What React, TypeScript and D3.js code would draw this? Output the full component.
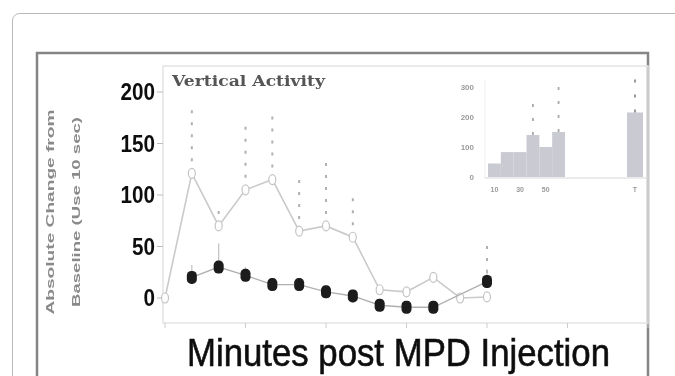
import { useMemo } from "react";
import * as d3 from "d3";

const WIDTH = 675;
const HEIGHT = 376;

// main time course (minutes after injection)
const minutes = [0, 10, 20, 30, 40, 50, 60, 70, 80, 90, 100, 110, 120];
const openValues = [0, 121, 70, 105, 115, 65, 70, 59, 8, 6, 20, 0, 1];
const openErrors = [0, 70, 15, 70, 63, 50, 67, 44, 10, 8, 10, 5, 52];
const filledValues = [null, 20, 30, 22, 13, 13, 6, 2, -7, -9, -9, null, 16];
const filledErrors = [null, 12, 23, 8, 6, 6, 6, 6, 5, 5, 5, null, 12];
const yTicks = [0, 50, 100, 150, 200];

// inset histogram
const insetBins = ["10", "20", "30", "40", "50", "60"];
const insetValues = [45, 83, 83, 140, 100, 150];
const insetErrors = [null, null, null, 110, null, 170];
const insetTotalValue = 215;
const insetTotalError = 135;
const insetTicks = [0, 100, 200, 300];
const insetTickLabels = ["0", "100", "200", "300"];
const insetXLabels = ["10", "30", "50"];
const insetTotalLabel = "T";

export default function App() {
  const x = d3.scaleLinear().domain([0, 180]).range([165, 648]);
  const y = d3.scaleLinear().domain([0, 200]).range([298, 92]);

  const openPts = useMemo(
    () => minutes.map((m, i) => ({ m, v: openValues[i], e: openErrors[i] })),
    []
  );
  const filledPts = useMemo(
    () =>
      minutes
        .map((m, i) => ({ m, v: filledValues[i], e: filledErrors[i] }))
        .filter((d) => d.v !== null),
    []
  );

  const line = d3
    .line<{ m: number; v: number }>()
    .x((d) => x(d.m))
    .y((d) => y(d.v));

  // inset scales
  const ix = d3.scaleBand().domain(insetBins).range([488, 565]).padding(0);
  const iy = d3.scaleLinear().domain([0, 300]).range([177, 87]);

  return (
    <svg
      width={WIDTH}
      height={HEIGHT}
      style={{ position: "absolute", left: 0, top: 0, background: "#fff" }}
      fontFamily="Liberation Sans, Arial, sans-serif"
    >
      <defs>
        <filter id="soft" x="-5%" y="-5%" width="110%" height="110%">
          <feGaussianBlur stdDeviation="0.6" />
        </filter>
      </defs>

      {/* outer card */}
      <rect x={12.5} y={13.5} width={700} height={400} rx={7} fill="#fff" stroke="#b8b8b8" />

      <g filter="url(#soft)">
        {/* figure frame */}
        <rect x={37} y={53} width={611} height={340} fill="#fff" stroke="#858585" strokeWidth={2.5} />

        {/* plot box */}
        <rect x={163} y={66} width={485} height={257} fill="none" stroke="#e4e4e4" strokeWidth={1.5} />

        {/* y axis ticks + labels */}
        {yTicks.map((t) => (
          <g key={t}>
            <line x1={157} x2={163} y1={y(t)} y2={y(t)} stroke="#bbb" />
            <text
              x={155}
              y={y(t)}
              textAnchor="end"
              dominantBaseline="central"
              fontSize={23}
              fontWeight="bold"
              fill="#111"
              textLength={String(t).length * 11.5}
              lengthAdjust="spacingAndGlyphs"
            >
              {t}
            </text>
          </g>
        ))}

        {/* x axis ticks */}
        {d3.range(0, 181, 30).map((m) => (
          <line key={m} x1={x(m)} x2={x(m)} y1={323} y2={328} stroke="#ccc" />
        ))}

        {/* y axis title */}
        <text
          transform="translate(50,212) rotate(-90)"
          textAnchor="middle"
          dominantBaseline="central"
          fontSize={10}
          fontWeight="bold"
          fill="#8a8a8a"
          textLength={205}
          lengthAdjust="spacingAndGlyphs"
        >
          Absolute Change from
        </text>
        <text
          transform="translate(76,212) rotate(-90)"
          textAnchor="middle"
          dominantBaseline="central"
          fontSize={10}
          fontWeight="bold"
          fill="#8a8a8a"
          textLength={190}
          lengthAdjust="spacingAndGlyphs"
        >
          Baseline (Use 10 sec)
        </text>

        {/* panel title */}
        <text
          x={172}
          y={86}
          fontSize={15}
          fontWeight="bold"
          fontFamily="DejaVu Serif, serif"
          fill="#555"
          textLength={153}
          lengthAdjust="spacingAndGlyphs"
        >
          Vertical Activity
        </text>

        {/* open series error bars */}
        {openPts.map((d, i) =>
          d.e > 0 ? (
            <line
              key={"oe" + i}
              x1={x(d.m)}
              x2={x(d.m)}
              y1={y(d.v)}
              y2={y(d.v + d.e)}
              stroke="#b0b0b0"
              strokeDasharray="3,9"
              strokeWidth={2}
            />
          ) : null
        )}
        {/* open series line */}
        <path d={line(openPts) || ""} fill="none" stroke="#cacaca" strokeWidth={1.6} />
        {openPts.map((d, i) => (
          <ellipse key={"o" + i} cx={x(d.m)} cy={y(d.v)} rx={3.5} ry={5} fill="#fff" stroke="#c4c4c4" strokeWidth={1.2} />
        ))}

        {/* filled series */}
        {filledPts.map((d, i) => (
          <line
            key={"fe" + i}
            x1={x(d.m)}
            x2={x(d.m)}
            y1={y(d.v as number)}
            y2={y((d.v as number) + (d.e as number))}
            stroke="#c0c0c0"
            strokeWidth={1.2}
          />
        ))}
        <path d={line(filledPts as any) || ""} fill="none" stroke="#b0b0b0" strokeWidth={1.4} />
        {filledPts.map((d, i) => (
          <rect
            key={"f" + i}
            x={x(d.m) - 5}
            y={y(d.v as number) - 6.5}
            width={10}
            height={13}
            rx={4.5}
            fill="#1a1a1a"
          />
        ))}

        {/* inset */}
        <line x1={485} x2={485} y1={80} y2={178} stroke="#eee" />
        <line x1={485} x2={646} y1={178} y2={178} stroke="#e4e4e4" strokeWidth={1.5} />
        {insetTicks.map((t, i) => (
          <text
            key={"it" + t}
            x={474}
            y={iy(t)}
            textAnchor="end"
            dominantBaseline="central"
            fontSize={8}
            fontWeight="bold"
            fill="#9a9a9a"
          >
            {insetTickLabels[i]}
          </text>
        ))}
        {insetBins.map((b, i) => (
          <rect
            key={"ib" + b}
            x={ix(b)}
            y={iy(insetValues[i])}
            width={ix.bandwidth()}
            height={iy(0) - iy(insetValues[i])}
            fill="#cacad2"
          />
        ))}
        {insetBins.map((b, i) =>
          insetErrors[i] ? (
            <line
              key={"ie" + b}
              x1={(ix(b) as number) + ix.bandwidth() / 2}
              x2={(ix(b) as number) + ix.bandwidth() / 2}
              y1={iy(insetValues[i])}
              y2={iy(insetValues[i] + (insetErrors[i] as number))}
              stroke="#aaa"
              strokeDasharray="3,11"
              strokeWidth={1.8}
            />
          ) : null
        )}
        <rect x={627} y={iy(insetTotalValue)} width={16} height={iy(0) - iy(insetTotalValue)} fill="#cacad2" />
        <line
          x1={635}
          x2={635}
          y1={iy(insetTotalValue)}
          y2={iy(insetTotalValue + insetTotalError)}
          stroke="#999"
          strokeDasharray="3,12"
          strokeWidth={2}
        />
        {insetXLabels.map((l) => (
          <text
            key={"ix" + l}
            x={(ix(l) as number) + ix.bandwidth() / 2}
            y={189}
            textAnchor="middle"
            dominantBaseline="central"
            fontSize={7}
            fontWeight="bold"
            fill="#999"
          >
            {l}
          </text>
        ))}
        <text x={635} y={189} textAnchor="middle" dominantBaseline="central" fontSize={7} fontWeight="bold" fill="#999">
          {insetTotalLabel}
        </text>

        {/* x axis title */}
        <text
          x={187}
          y={366}
          fontSize={38}
          fill="#111"
          stroke="#111"
          strokeWidth={0.6}
          textLength={423}
          lengthAdjust="spacingAndGlyphs"
        >
          Minutes post MPD Injection
        </text>
      </g>
    </svg>
  );
}
